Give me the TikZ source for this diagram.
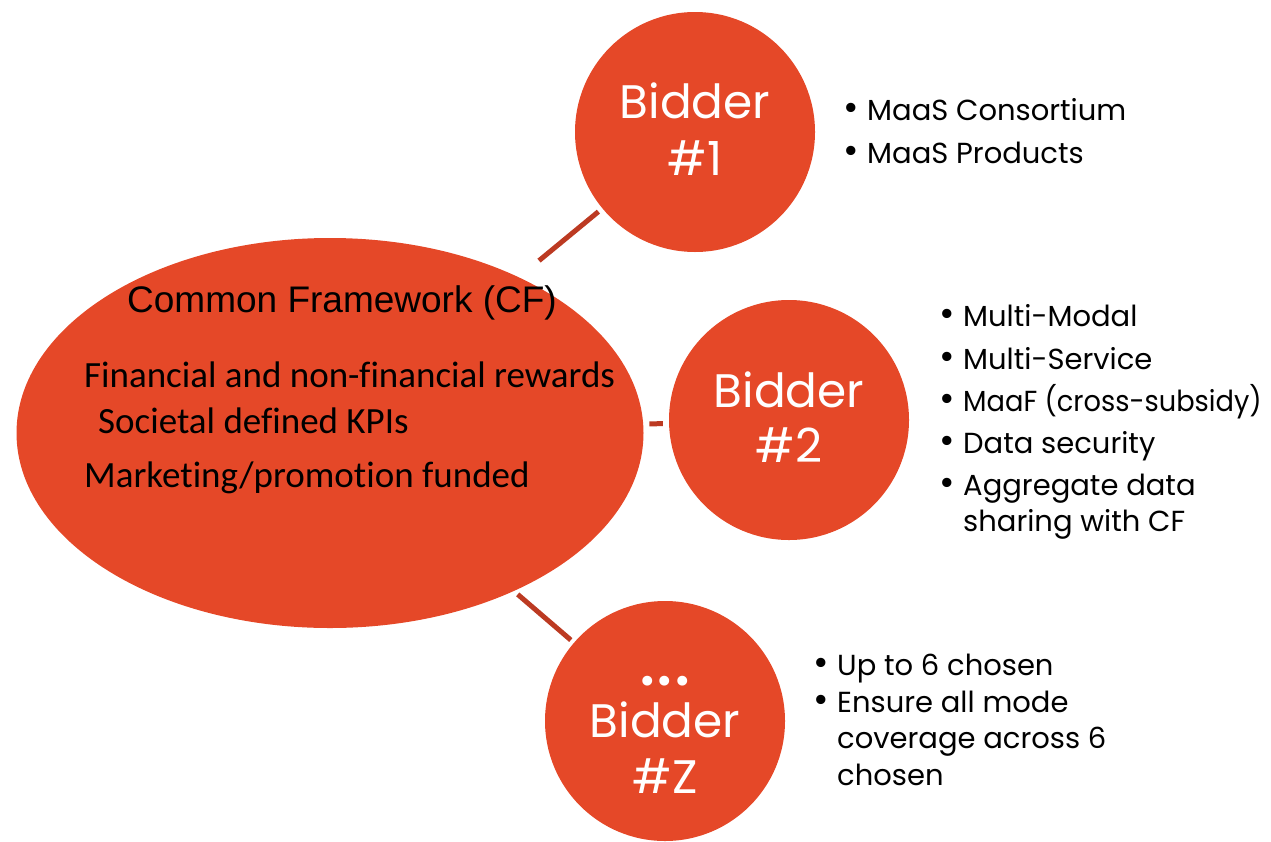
\documentclass[tikz,border=0pt]{standalone}
\usepackage{fontspec}
\usetikzlibrary{shapes.geometric}
\newfontfamily\geofont{Poppins}
\newfontfamily\headfont{Liberation Sans}
\newfontfamily\bodyfont[Ligatures=NoCommon]{Carlito}
\definecolor{cfred}{HTML}{E54828}
\definecolor{linkred}{HTML}{BC3A22}
\tikzset{
  bidder/.style={circle, fill=cfred, minimum size=240pt, inner sep=0pt},
  link/.style={draw=linkred, line width=5pt},
  bigname/.style={anchor=base, inner sep=0pt, text=white, font=\geofont\fontsize{47}{50}\selectfont},
  bulletline/.style={anchor=base west, inner sep=0pt, font=\geofont\fontsize{29}{34}\selectfont},
  cftext/.style={anchor=base west, inner sep=0pt, font=\bodyfont\fontsize{37}{40}\selectfont},
}
\newcommand{\bul}{\llap{\scalebox{1.3}{\textbullet}\hspace{8pt}}}
\begin{document}
\begin{tikzpicture}[x=1pt,y=-1pt]
\useasboundingbox (0,0) rectangle (1271,841);

% common framework ellipse and its notes
\node[ellipse, fill=cfred, minimum width=627pt, minimum height=390pt, inner sep=0pt] (cf) at (330,433) {};
\node[anchor=base, inner sep=0pt, font=\headfont\fontsize{37}{40}\selectfont] (cftitle) at (342,312) {Common Framework (CF)};
\node[cftext] (cf1) at (84,387) {Financial and non-financial rewards};
\node[cftext] (cf2) at (98,433) {Societal defined KPIs};
\node[cftext] (cf3) at (84,487) {Marketing/promotion funded};

% bidders
\node[bidder] (b1) at (695,132) {};
\node[bidder] (b2) at (789,420) {};
\node[bidder] (bz) at (665,721) {};

\node[bigname] (b1a) at (695,118) {Bidder};
\node[bigname] (b1b) at (695,175) {\#1};
\node[bigname] (b2a) at (789,407) {Bidder};
\node[bigname] (b2b) at (789,462) {\#2};
\node[bigname, font=\geofont\fontsize{40}{44}\selectfont] (bza) at (665,694) {\textbullet\hspace{1pt}\textbullet\hspace{1pt}\textbullet};
\node[bigname] (bzb) at (665,737) {Bidder};
\node[bigname] (bzc) at (665,793) {\#Z};

% connectors
\draw[link, shorten <=26pt, shorten >=5pt] (cf) -- (b1);
\draw[link, shorten <=6pt, shorten >=6pt] (cf) -- (b2);
\draw[link, shorten <=5pt, shorten >=4pt] (cf) -- (bz);

% bidder #1 notes
\node[bulletline] (n11) at (867,120) {\bul MaaS Consortium};
\node[bulletline] (n12) at (867,163) {\bul MaaS Products};

% bidder #2 notes
\node[bulletline] (n21) at (963,326) {\bul Multi-Modal};
\node[bulletline] (n22) at (963,369) {\bul Multi-Service};
\node[bulletline] (n23) at (963,411) {\bul \scalebox{0.94}[1]{MaaF (cross-subsidy)}};
\node[bulletline] (n24) at (963,453) {\bul Data security};
\node[bulletline] (n25) at (963,495) {\bul Aggregate data};
\node[bulletline] (n26) at (963,531) {sharing with CF};

% bidder #Z notes
\node[bulletline] (n31) at (837,675) {\bul Up to 6 chosen};
\node[bulletline] (n32) at (837,712) {\bul Ensure all mode};
\node[bulletline] (n33) at (837,748) {coverage across 6};
\node[bulletline] (n34) at (837,785) {chosen};
\end{tikzpicture}
\end{document}
